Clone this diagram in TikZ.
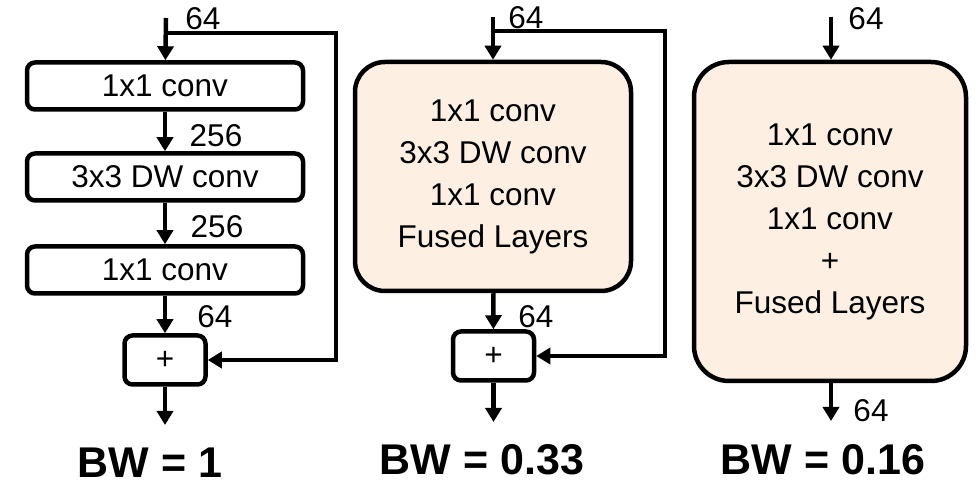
\documentclass[tikz,border=0pt]{standalone}
\usepackage{fontspec}
\setmainfont{Liberation Sans}
\usetikzlibrary{arrows.meta}
\definecolor{fusedfill}{HTML}{FDF0E2}
\begin{document}
\begin{tikzpicture}[x=1pt, y=-1pt,
    layer/.style={rectangle, draw, line width=4.5pt, rounded corners=8pt, minimum width=276pt, minimum height=47pt, font=\fontsize{31.5}{36}\selectfont},
    adder/.style={rectangle, draw, line width=4.5pt, rounded corners=8pt, minimum width=81pt, minimum height=49pt, font=\fontsize{31.5}{36}\selectfont},
    fused/.style={rectangle, draw, line width=4.5pt, fill=fusedfill, align=center, font=\fontsize{31.5}{42}\selectfont},
    dim/.style={anchor=base, inner sep=0pt, font=\fontsize{31.5}{36}\selectfont},
    bw/.style={anchor=base, inner sep=0pt, font=\fontsize{43}{48}\selectfont\bfseries},
    arrow/.style={-{Triangle[width=16pt,length=14pt]}, line width=4.5pt},
    line/.style={line width=4.5pt}
]
\useasboundingbox (0,0) rectangle (978,486);

% Original block (Left)
\coordinate (inA) at (166,18);
\coordinate (skipA) at (166,33);
\coordinate (retA) at (336,33);
\node[layer] (convA1) at (165,86) {1x1 conv};
\node[layer] (dwA) at (165,177) {3x3 DW conv};
\node[layer] (convA2) at (165,270) {1x1 conv};
\node[adder] (plusA) at (165,360) {+};
\coordinate (outA) at (165,425);

\draw[arrow] (inA) -- (convA1);
\draw[arrow] (convA1) -- (dwA);
\draw[arrow] (dwA) -- (convA2);
\draw[arrow] (convA2) -- (plusA);
\draw[arrow] (plusA) -- (outA);
\draw[arrow] (skipA) -- (retA) |- (plusA.east);

\node[dim] at (203,30) {64};
\node[dim] at (216,147) {256};
\node[dim] at (217,238) {256};
\node[dim] at (215,328) {64};
\node[bw] at (150,477) {BW = 1};

% Fused layers (Middle)
\coordinate (inB) at (493,17);
\coordinate (skipB) at (493,31);
\coordinate (retB) at (665,31);
\node[fused, rounded corners=30pt, minimum width=276pt, minimum height=229pt] (fusedB) at (493,176.5) {
    1x1 conv\\
    3x3 DW conv\\
    1x1 conv\\
    Fused Layers
};
\node[adder] (plusB) at (493.5,356) {+};
\coordinate (outB) at (493.5,422);

\draw[arrow] (inB) -- (fusedB);
\draw[arrow] (fusedB) -- (plusB);
\draw[arrow] (plusB) -- (outB);
\draw[arrow] (skipB) -- (retB) |- (plusB.east);

\node[dim] at (526,29) {64};
\node[dim] at (536,328) {64};
\node[bw] at (482,475) {BW = 0.33};

% Fused layers with residual (Right)
\coordinate (inC) at (831,17);
\node[fused, rounded corners=35pt, minimum width=272pt, minimum height=319pt] (fusedC) at (830,221.5) {
    1x1 conv\\
    3x3 DW conv\\
    1x1 conv\\
    +\\
    Fused Layers
};
\coordinate (outC) at (831,421);

\draw[arrow] (inC) -- (inC |- fusedC.north);
\draw[arrow] (fusedC.south -| outC) -- (outC);

\node[dim] at (866,30) {64};
\node[dim] at (871,421) {64};
\node[bw] at (823,474) {BW = 0.16};

\end{tikzpicture}
\end{document}
